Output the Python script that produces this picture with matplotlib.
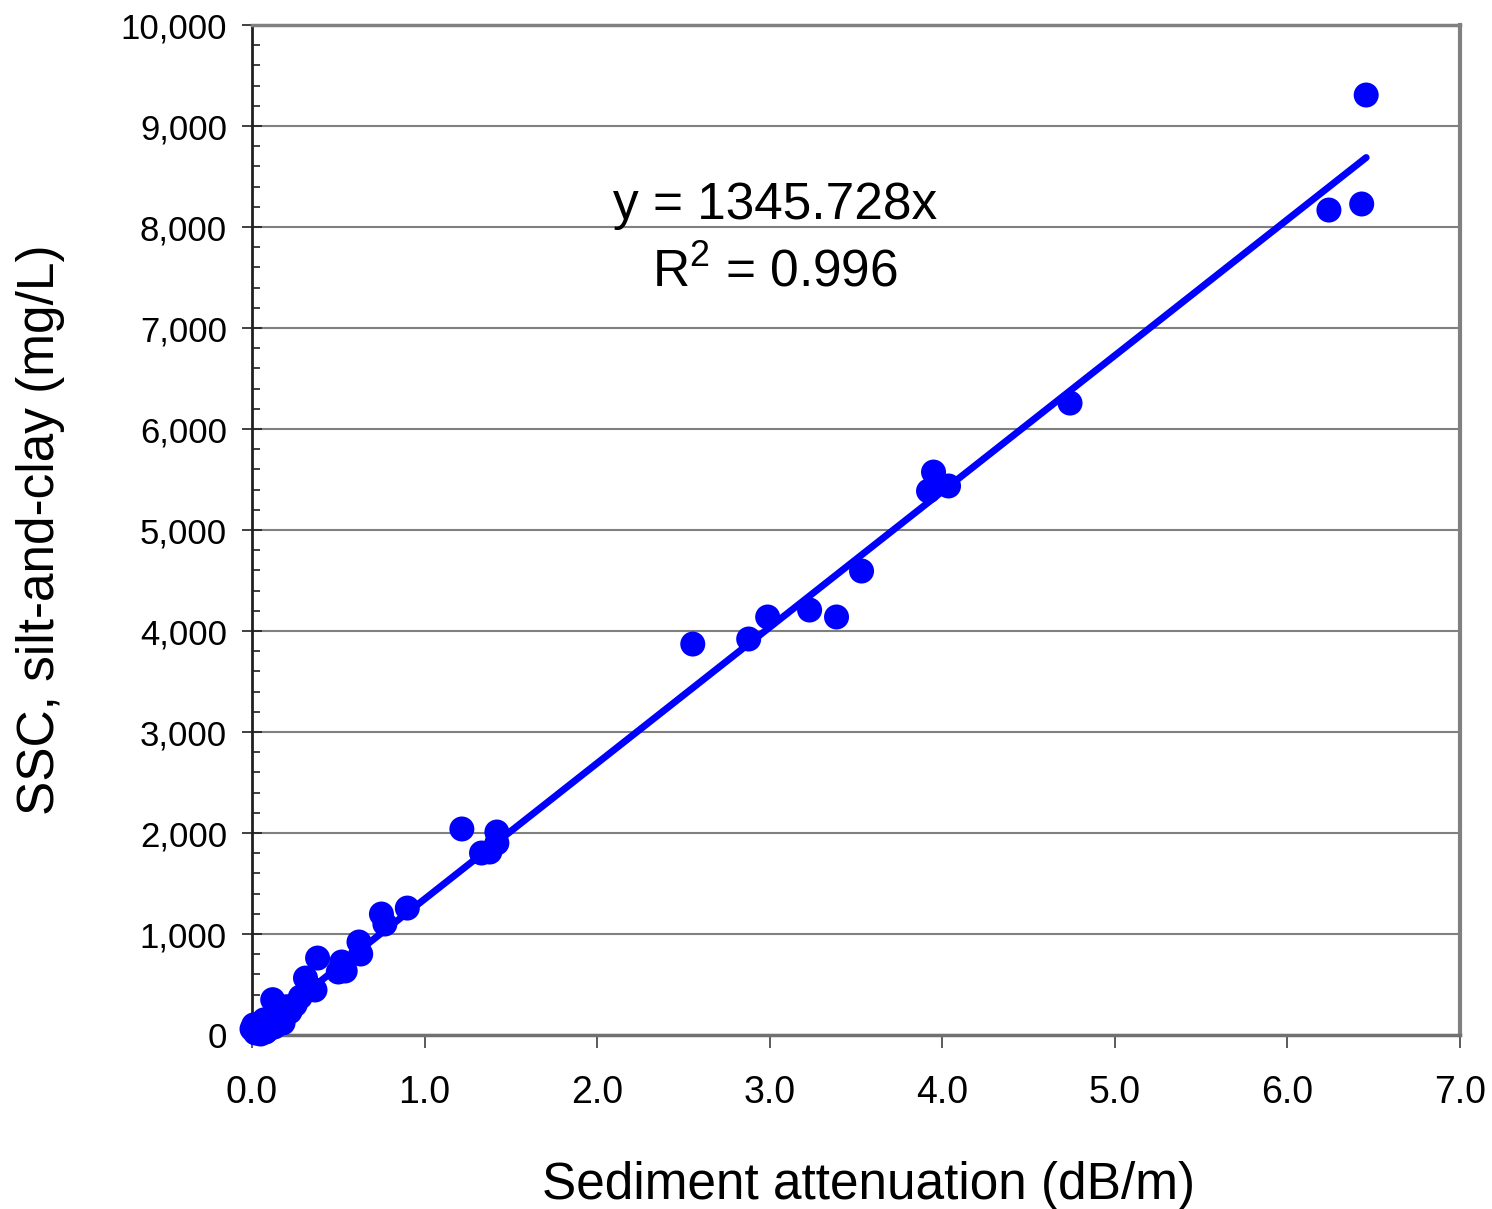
import matplotlib
matplotlib.use('Agg')
import matplotlib.pyplot as plt
import numpy as np
from matplotlib.ticker import MultipleLocator, FuncFormatter

plt.rcParams['font.family'] = ['Liberation Sans', 'DejaVu Sans']
plt.rcParams['mathtext.fontset'] = 'custom'
plt.rcParams['mathtext.rm'] = 'Liberation Sans'

# sediment attenuation (dB/m) vs SSC silt-and-clay (mg/L)
atten = [0.00, 0.01, 0.02, 0.03, 0.05, 0.06, 0.07, 0.08, 0.10, 0.10, 0.12, 0.13,
         0.15, 0.17, 0.18, 0.20, 0.22, 0.25, 0.12, 0.28, 0.31, 0.365, 0.38,
         0.50, 0.52, 0.54, 0.62, 0.63, 0.75, 0.77, 0.90,
         1.216, 1.33, 1.378, 1.419, 1.419,
         2.554, 2.878, 2.988, 3.231, 3.387, 3.532, 3.92, 3.949, 4.036,
         4.74, 6.24, 6.43, 6.456]
ssc = [60, 100, 20, 50, 10, 90, 150, 30, 120, 60, 170, 80,
       210, 150, 120, 280, 230, 300, 350, 376, 564, 446, 762,
       624, 723, 634, 921, 802, 1198, 1099, 1257,
       2040, 1802, 1812, 1901, 2010,
       3871, 3921, 4139, 4208, 4139, 4594, 5386, 5574, 5436,
       6257, 8168, 8228, 9307]

slope = 1345.728
r2 = 0.996

fig = plt.figure(figsize=(14.92, 12.09), dpi=100)
ax = fig.add_axes([0.1689, 0.1439, 0.8097, 0.8354])

xfit = np.array([0, max(atten)])
ax.plot(xfit, slope * xfit, color='#0000FF', linewidth=5, solid_capstyle='round', zorder=3)
ax.scatter(atten, ssc, s=324, color='#0000FF', edgecolors='none', zorder=4, clip_on=False)

ax.set_xlim(0, 7)
ax.set_ylim(0, 10000)
ax.xaxis.set_major_locator(MultipleLocator(1))
ax.yaxis.set_major_locator(MultipleLocator(1000))
ax.yaxis.set_minor_locator(MultipleLocator(200))
ax.xaxis.set_major_formatter(FuncFormatter(lambda v, p: f'{v:.1f}'))
ax.yaxis.set_major_formatter(FuncFormatter(lambda v, p: f'{int(v):,}'))

ax.grid(axis='y', which='major', color='#808080', linewidth=1.5, zorder=0)
ax.set_axisbelow(True)

ax.tick_params(axis='x', which='major', direction='out', length=9, width=1.2,
               labelsize=27, pad=20, color='#404040')
ax.tick_params(axis='y', which='major', direction='inout', length=14, width=1.2,
               labelsize=25, pad=11, color='#202020')
ax.tick_params(axis='y', which='minor', direction='in', length=6, width=1.2, color='#202020')

ax.spines['left'].set_color('#202020')
ax.spines['left'].set_linewidth(2)
ax.spines['bottom'].set_color('#707070')
ax.spines['bottom'].set_linewidth(2.5)
ax.spines['top'].set_color('#808080')
ax.spines['top'].set_linewidth(2.5)
ax.spines['right'].set_color('#808080')
ax.spines['right'].set_linewidth(3)

ax.set_xlabel('Sediment attenuation (dB/m)', fontsize=37, labelpad=36)
ax.xaxis.label.set_x(0.51)
ax.set_ylabel('SSC, silt-and-clay (mg/L)', fontsize=37, labelpad=40)

ax.text(3.03, 8218, f'y = {slope}x', fontsize=37, ha='center', va='center', zorder=5)
ax.text(3.03, 7554, f'R$^2$ = {r2}', fontsize=37, ha='center', va='center', zorder=5)

fig.savefig('out.png', dpi=100)
